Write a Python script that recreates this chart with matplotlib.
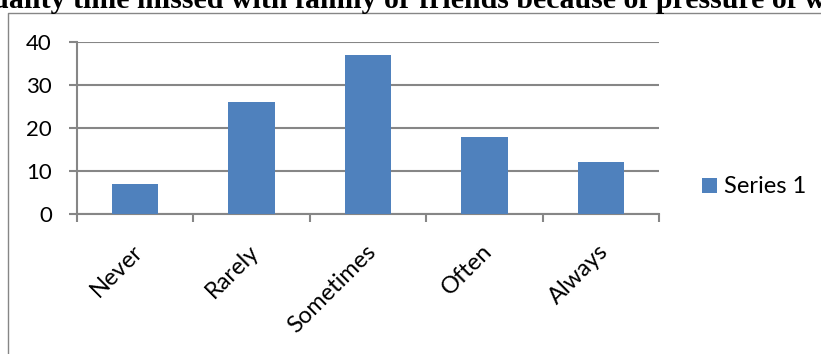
import matplotlib
matplotlib.use("Agg")
from matplotlib import pyplot as plt
from matplotlib.lines import Line2D
from matplotlib.transforms import ScaledTranslation
import numpy as np

categories = ["Never", "Rarely", "Sometimes", "Often", "Always"]
series_1 = [7, 26, 37, 18, 12]
y_ticks = [0, 10, 20, 30, 40]
title = "Quality time missed with family or friends because of pressure of work"

bar_color = "#4F81BD"
grid_color = "#868686"

plt.rcParams["font.family"] = ["Lato", "DejaVu Sans"]

fig = plt.figure(figsize=(8.21, 3.54), dpi=100)
ax = fig.add_axes([0.0938, 0.3955, 0.7089, 0.4859])

x = np.arange(len(categories))
ax.bar(x, series_1, width=0.4, color=bar_color, label="Series 1", zorder=3)

ax.set_xlim(-0.5, len(categories) - 0.5)
ax.set_ylim(0, 40)
ax.set_yticks(y_ticks)
ax.yaxis.grid(True, color=grid_color, linewidth=1.5, zorder=0)

# category ticks sit between the bars
ax.set_xticks(np.arange(len(categories) + 1) - 0.5)
ax.set_xticklabels([])
ax.tick_params(axis="x", length=6, width=1.5, color=grid_color)
ax.tick_params(axis="y", length=6, width=1.5, color=grid_color, labelsize=16, pad=12)

# slanted category names under each bar
offset = ScaledTranslation(-3 / 100, -27 / 100, fig.dpi_scale_trans)
for xi, name in zip(x, categories):
    ax.text(xi, 0, name, transform=ax.get_xaxis_transform() + offset,
            rotation=45, rotation_mode="anchor", ha="right", va="top",
            fontsize=17)

for side in ["top", "right"]:
    ax.spines[side].set_visible(False)
for side in ["left", "bottom"]:
    ax.spines[side].set_color(grid_color)
    ax.spines[side].set_linewidth(1.5)

ax.legend(loc="center left", bbox_to_anchor=(1.038, 0.157), frameon=False,
          fontsize=17, handlelength=0.62, handleheight=0.62, handletextpad=0.3)

fig.text(0.512, 1 - 8 / 354, title, ha="center", va="baseline",
         fontsize=21.5, fontweight="bold", family=["Liberation Serif"])

# outer frame of the chart area (left and top edges)
frame_top = 1 - 12.7 / 354
frame_left = 8 / 821
fig.add_artist(Line2D([frame_left, frame_left, 1], [0, frame_top, frame_top],
                      transform=fig.transFigure, color=grid_color, linewidth=1))

fig.savefig("out.png", dpi=100)
